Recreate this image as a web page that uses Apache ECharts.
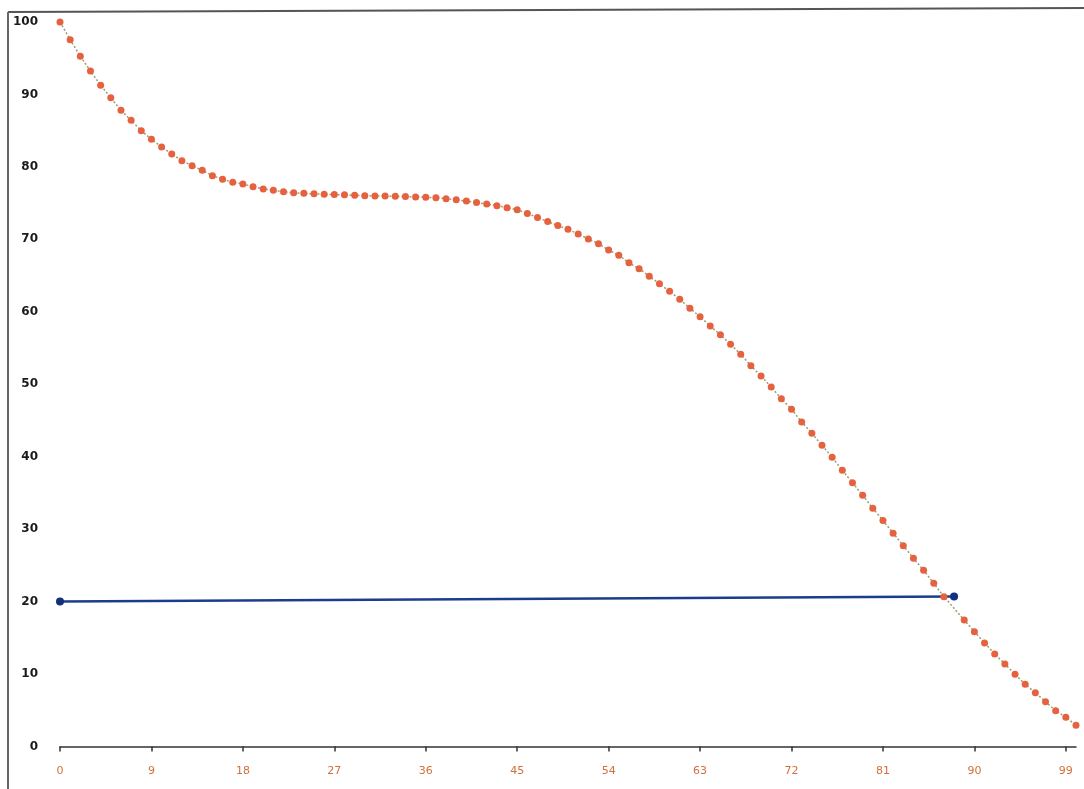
<!DOCTYPE html>
<html>
<head>
<meta charset="utf-8">
<script src="https://cdn.jsdelivr.net/npm/echarts@6/dist/echarts.min.js"></script>
<style>
html,body{margin:0;padding:0;background:#fff;}
#chart{width:1084px;height:789px;}
</style>
</head>
<body>
<div id="chart"></div>
<script>
// categories 0..100 (x axis)
const categories = ["0","1","2","3","4","5","6","7","8","9","10","11","12","13","14","15","16","17","18","19","20","21","22","23","24","25","26","27","28","29","30","31","32","33","34","35","36","37","38","39","40","41","42","43","44","45","46","47","48","49","50","51","52","53","54","55","56","57","58","59","60","61","62","63","64","65","66","67","68","69","70","71","72","73","74","75","76","77","78","79","80","81","82","83","84","85","86","87","88","89","90","91","92","93","94","95","96","97","98","99","100"];

// orange dotted curve
const curveValues = [100, 97.56, 95.27, 93.24, 91.26, 89.55, 87.81, 86.43, 85.0, 83.81,
  82.75, 81.78, 80.86, 80.17, 79.53, 78.79, 78.29, 77.87, 77.64, 77.27,
  76.95, 76.77, 76.56, 76.42, 76.35, 76.28, 76.22, 76.18, 76.14, 76.08,
  76.03, 76.0, 75.98, 75.94, 75.9, 75.86, 75.82, 75.74, 75.6, 75.45,
  75.28, 75.08, 74.88, 74.65, 74.37, 74.08, 73.58, 73.0, 72.45, 71.9,
  71.39, 70.74, 70.05, 69.4, 68.53, 67.8, 66.78, 65.95, 64.9, 63.88,
  62.83, 61.73, 60.48, 59.32, 58.04, 56.82, 55.51, 54.13, 52.56, 51.14,
  49.62, 48.0, 46.54, 44.79, 43.23, 41.57, 39.92, 38.12, 36.41, 34.67,
  32.88, 31.2, 29.45, 27.72, 25.98, 24.32, 22.53, 20.68, 19.07, 17.46,
  15.85, 14.29, 12.77, 11.39, 9.96, 8.59, 7.43, 6.18, 4.94, 4.03, 2.93];

// blue line: [category index, value]
const lineX = [0, 88];
const lineY = [20, 20.7];

// y-axis ticks
const yMin = 0, yMax = 100, yStep = 10;

const blueData = lineX.map((x, i) => [x, lineY[i]]);
const blueEnd = lineX[lineX.length - 1];

const chart = echarts.init(document.getElementById('chart'), null, {renderer: 'canvas'});
chart.setOption({
  animation: false,
  backgroundColor: '#ffffff',
  grid: {left: 60, right: 8, top: 22, bottom: 42.5, containLabel: false},
  xAxis: {
    type: 'category',
    data: categories,
    boundaryGap: false,
    axisLine: {show: true, lineStyle: {color: '#333', width: 1.5}},
    axisTick: {show: true, interval: 8, length: 5, lineStyle: {color: '#333', width: 1.5}},
    axisLabel: {interval: 8, margin: 19, color: '#d2703a', fontSize: 11, fontFamily: 'DejaVu Sans'},
    splitLine: {show: false}
  },
  yAxis: {
    type: 'value',
    min: yMin, max: yMax, interval: yStep,
    axisLine: {show: false},
    axisTick: {show: false},
    splitLine: {show: false},
    axisLabel: {margin: 22, color: '#1a1a1a', fontSize: 12, fontWeight: 'bold', fontFamily: 'DejaVu Sans'}
  },
  series: [
    {
      type: 'line',
      data: blueData,
      symbol: 'circle',
      symbolSize: 8,
      showAllSymbol: true,
      itemStyle: {color: '#13307f'},
      lineStyle: {color: '#1b3d8c', width: 2.5},
      z: 2
    },
    {
      type: 'line',
      data: curveValues,
      symbol: 'circle',
      showAllSymbol: true,
      symbolSize: function (v, p) { return p.dataIndex === blueEnd ? 0 : 7; },
      itemStyle: {color: '#e6623f'},
      lineStyle: {color: '#9e9a72', width: 1.5, type: [2, 2]},
      z: 3
    }
  ],
  graphic: [
    {type: 'line', shape: {x1: 8, y1: 12, x2: 1084, y2: 8}, style: {stroke: '#555', lineWidth: 2}, silent: true},
    {type: 'line', shape: {x1: 8, y1: 12, x2: 8, y2: 789}, style: {stroke: '#666', lineWidth: 2}, silent: true}
  ]
});
</script>
</body>
</html>
